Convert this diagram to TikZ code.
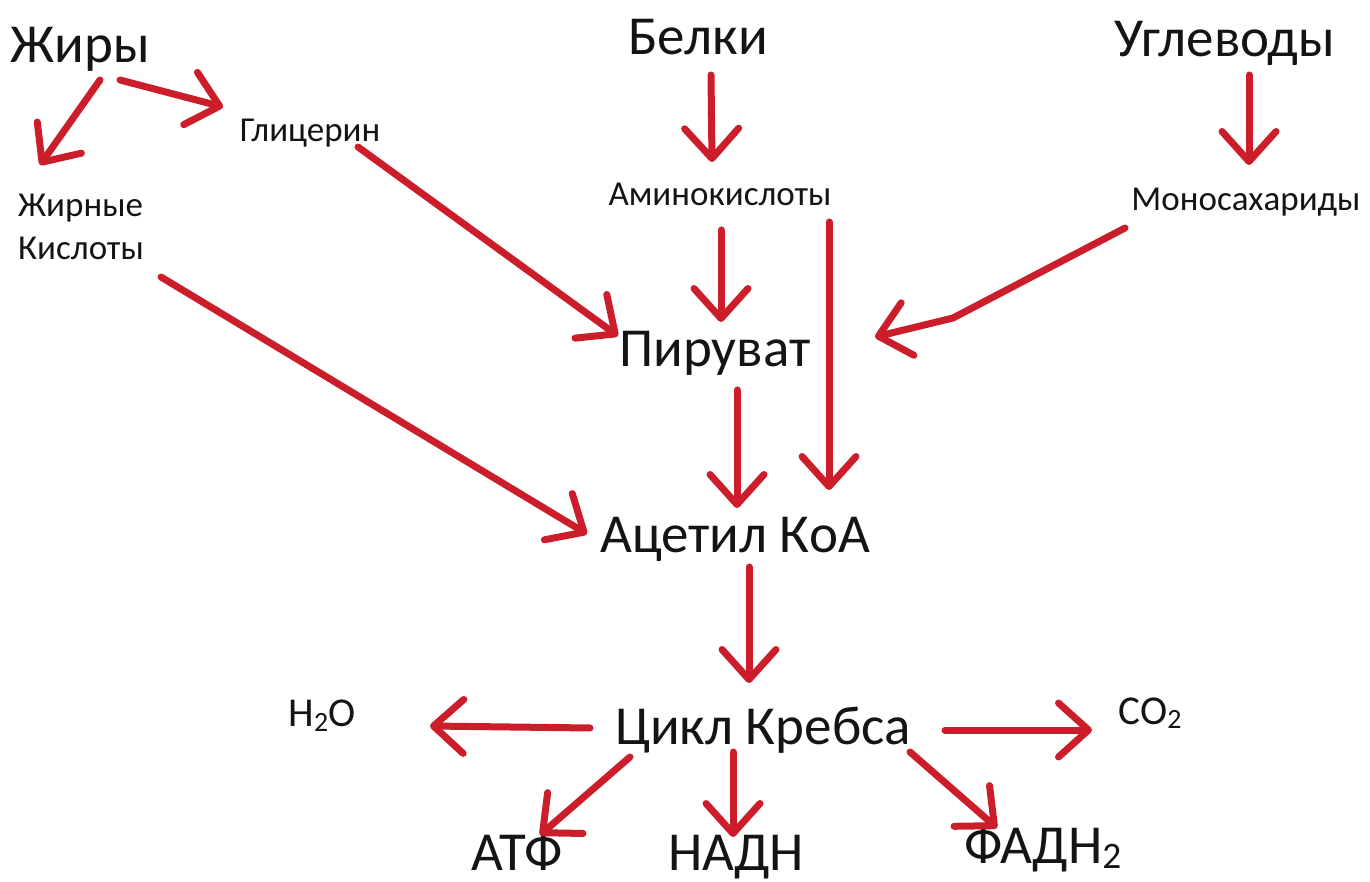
\documentclass[tikz,border=0pt]{standalone}
\usepackage{fontspec}
\setmainfont{Carlito}
\usepackage{xcolor}
\usepackage{graphicx}
\usepackage{tikz}
\usetikzlibrary{arrows.meta,calc}
\definecolor{arrowred}{RGB}{204,30,42}
\definecolor{inkblack}{RGB}{20,20,20}
\newcommand{\lowsub}[1]{\raisebox{-0.1em}{\scalebox{0.68}{#1}}}

\begin{document}
\begin{tikzpicture}[
  x=1pt, y=1pt,
  every node/.style={inner sep=0pt, anchor=base, text=inkblack},
  big/.style={font=\fontsize{55}{66}\selectfont},
  small/.style={font=\fontsize{35}{43}\selectfont},
  mid/.style={font=\fontsize{41}{48}\selectfont},
  arr/.style={arrowred, line width=7pt, line cap=round, line join=round,
    -{Straight Barb[length=30pt, width=54pt, round]}}
]
  \useasboundingbox (0,0) rectangle (1370,881);

  \node[big] (zhiry) at (80,818) {Жиры};
  \node[big] (belki) at (698,826) {Белки};
  \node[big] (uglevody) at (1225,824) {Углеводы};

  \node[small] (glicerin) at (310,739) {Глицерин};
  \node[small, align=left, anchor=base west] (zhkisl) at (18,621) {Жирные\\Кислоты};
  \node[small] (amino) at (720,675) {Аминокислоты};
  \node[small] (mono) at (1246,670) {Моносахариды};

  \node[big] (piruvat) at (715,514) {Пируват};
  \node[big] (acetyl) at (735,328) {Ацетил КоА};
  \node[big] (krebs) at (763,137) {Цикл Кребса};

  \node[mid] (water) at (322,154) {H\lowsub{2}O};
  \node[mid] (co2) at (1150,157) {CO\lowsub{2}};
  \node[big] (atf) at (517,11) {АТФ};
  \node[big] (nadh) at (736,11) {НАДН};
  \node[big] (fadh) at (1043,18) {ФАДН\lowsub{2}};

  \coordinate (monobend) at (953,563);

  \draw[arr] ($(zhiry.base)+(20,-17)$) -- ($(zhkisl.base west)+(22,95)$);
  \draw[arr] ($(zhiry.base)+(40,-17)$) -- ($(glicerin.base)+(-87,35)$);
  \draw[arr] ($(glicerin.base)+(48,-5)$) -- ($(piruvat.base)+(-97,31)$);
  \draw[arr] ($(zhkisl.base west)+(143,-17)$) -- ($(acetyl.base)+(-148,19)$);

  \draw[arr] ($(belki.base)+(13,-20)$) -- ($(amino.base)+(-8,44)$);
  \draw[arr] ($(amino.base)+(1,-24)$) -- ($(piruvat.base)+(6,45)$);
  \draw[arr] ($(amino.base)+(109,-16)$) -- ($(acetyl.base)+(94,63)$);

  \draw[arr] ($(uglevody.base)+(24,-18)$) -- ($(mono.base)+(3,46)$);
  \draw[arr] ($(mono.base)+(-121,-17)$) -- (monobend) -- ($(piruvat.base)+(160,30)$);

  \draw[arr] ($(piruvat.base)+(22,-23)$) -- ($(acetyl.base)+(2,45)$);
  \draw[arr] ($(acetyl.base)+(14,-14)$) -- ($(krebs.base)+(-14,61)$);

  \draw[arr] ($(krebs.base)+(-173,16)$) -- ($(water.base)+(108,1)$);
  \draw[arr] ($(krebs.base)+(182,14)$) -- ($(co2.base)+(-58,-6)$);
  \draw[arr] ($(krebs.base)+(-133,-13)$) -- ($(atf.base)+(23,35)$);
  \draw[arr] ($(krebs.base)+(-30,-8)$) -- ($(nadh.base)+(-3,33)$);
  \draw[arr] ($(krebs.base)+(147,-8)$) -- ($(fadh.base)+(-46,35)$);
\end{tikzpicture}
\end{document}
